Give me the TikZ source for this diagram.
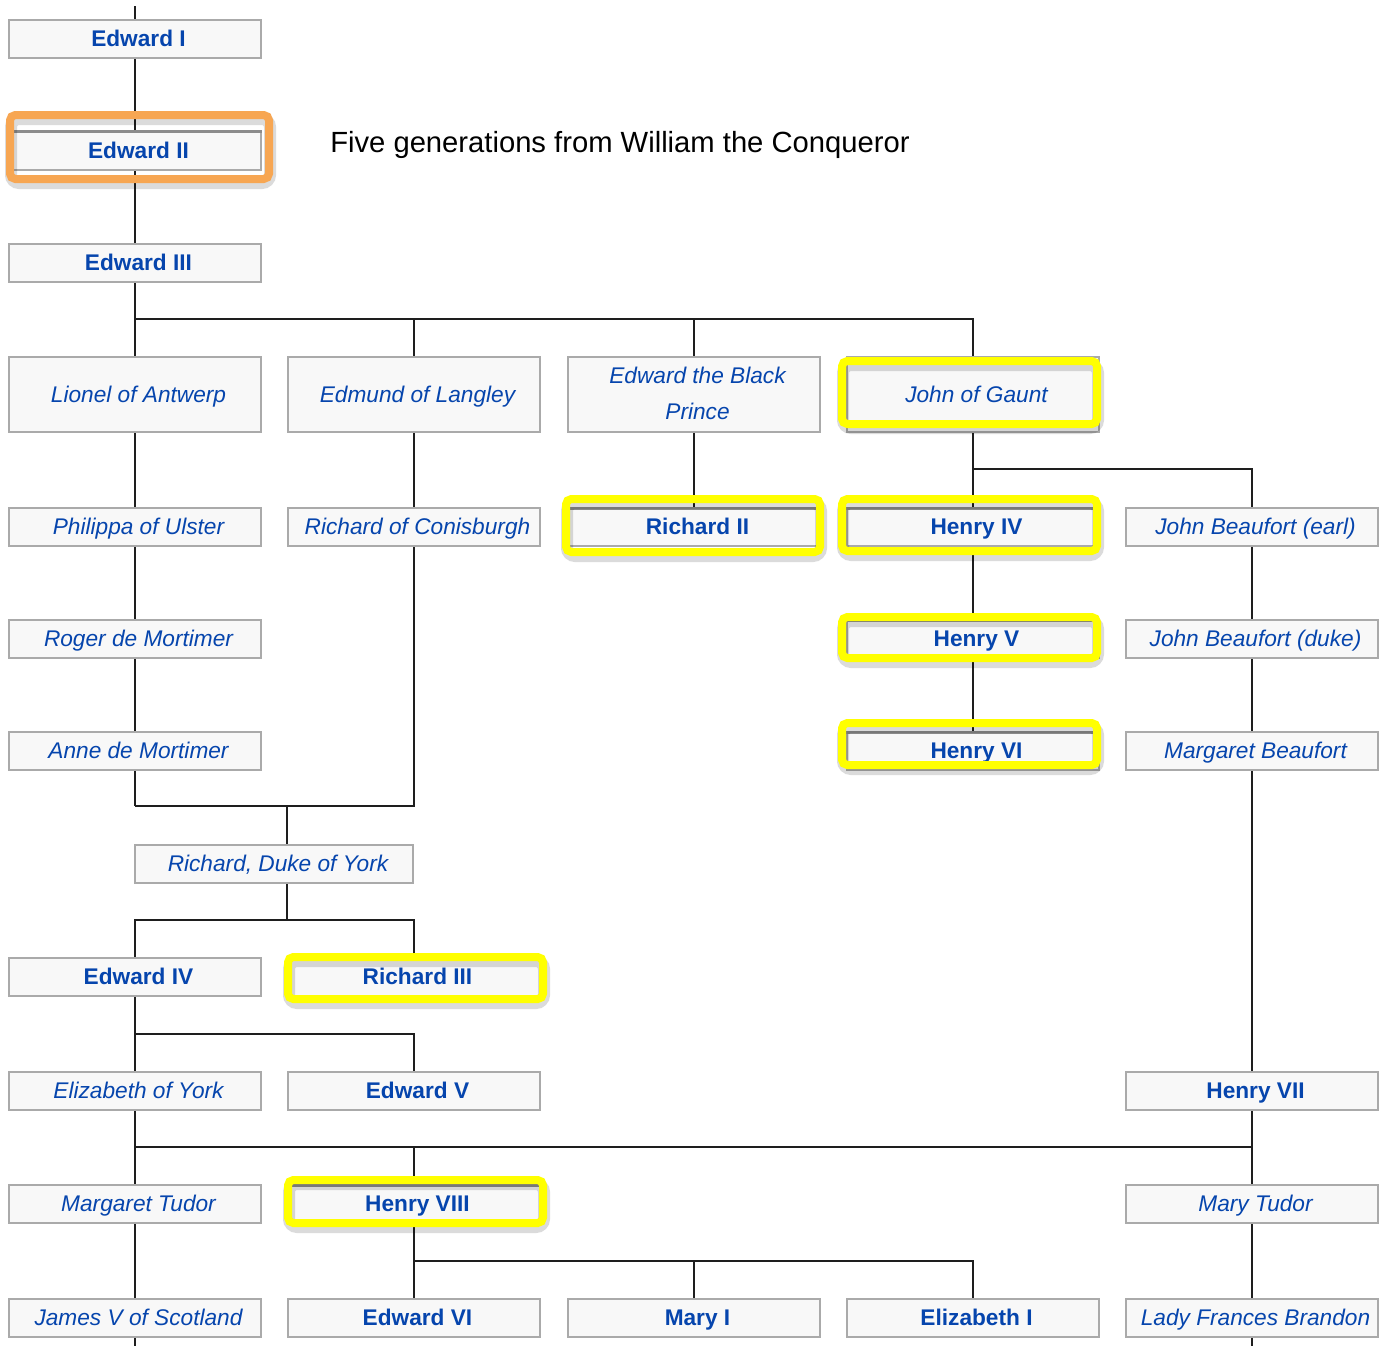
\documentclass[tikz,border=0pt]{standalone}
\usepackage{fontspec}
\setmainfont{Liberation Sans}
\usetikzlibrary{backgrounds}
\definecolor{linkblue}{RGB}{6,69,173}
\definecolor{boxfill}{RGB}{248,248,248}
\definecolor{boxline}{RGB}{170,170,170}
\definecolor{hlyellow}{RGB}{255,255,0}
\definecolor{hlorange}{RGB}{247,166,82}
\definecolor{connector}{RGB}{30,30,30}
\definecolor{innershade}{RGB}{140,140,140}
\pgfdeclarelayer{paper}
\pgfsetlayers{paper,background,main}
\begin{document}
\begin{tikzpicture}[x=0.75pt,y=-0.75pt,
  person/.style={draw=boxline, line width=1.5pt, fill=boxfill, minimum width=189pt, minimum height=28.5pt, inner sep=0pt, text=linkblue, align=center, anchor=center, text height=13.8pt, text depth=2pt, execute at begin node={\hspace*{6pt}}},
  king/.style={person, font=\fontsize{17}{27}\selectfont\bfseries},
  noble/.style={person, font=\fontsize{17}{27}\selectfont\itshape},
  tallbox/.style={minimum height=56.25pt},
  link/.style={draw=connector, line width=1.5pt},
  hlmark/.style={line width=6pt, rounded corners=4pt},
  hlshadow/.style={draw=black, opacity=0.14, line width=9pt, rounded corners=6pt},
  shade/.style={draw=innershade, line width=2.2pt}]
\useasboundingbox (0,0) rectangle (1388,1346);
\begin{pgfonlayer}{paper}
\fill[white] (0,0) rectangle (1388,1346);
\end{pgfonlayer}

% ---------- people ----------
\node[king]  (e1) at (134.5,38.5) {Edward I};
\node[king]  (e2) at (134.5,150.5) {Edward II};
\node[king]  (e3) at (134.5,263) {Edward III};

\node[noble,tallbox] (lionel) at (134.5,394.5) {Lionel of Antwerp};
\node[noble,tallbox] (edmund) at (413.5,394.5) {Edmund of Langley};
\node[noble,tallbox,text height=38.8pt,text depth=2pt] (bprince) at (693.5,394.5) {Edward the Black\\Prince};
\node[noble,tallbox] (gaunt) at (972.5,394.5) {John of Gaunt};

\node[noble] (philippa) at (134.5,527) {Philippa of Ulster};
\node[noble] (conis) at (413.5,527) {Richard of Conisburgh};
\node[king]  (rich2) at (693.5,527) {Richard II};
\node[king]  (hen4) at (972.5,527) {Henry IV};
\node[noble] (jbe) at (1251.5,527) {John Beaufort (earl)};

\node[noble] (roger) at (134.5,639) {Roger de Mortimer};
\node[king]  (hen5) at (972.5,639) {Henry V};
\node[noble] (jbd) at (1251.5,639) {John Beaufort (duke)};

\node[noble] (anne) at (134.5,751) {Anne de Mortimer};
\node[king]  (hen6) at (972.5,751) {Henry VI};
\node[noble] (mbeau) at (1251.5,751) {Margaret Beaufort};

\node[noble,minimum width=208.5pt] (york) at (274,864) {Richard, Duke of York};

\node[king]  (edw4) at (134.5,977) {Edward IV};
\node[king]  (rich3) at (413.5,977) {Richard III};

\node[noble] (elizy) at (134.5,1091) {Elizabeth of York};
\node[king]  (edw5) at (413.5,1091) {Edward V};
\node[king]  (hen7) at (1251.5,1091) {Henry VII};

\node[noble] (margt) at (134.5,1204) {Margaret Tudor};
\node[king]  (hen8) at (413.5,1204) {Henry VIII};
\node[noble] (maryt) at (1251.5,1204) {Mary Tudor};

\node[noble] (james) at (134.5,1318) {James V of Scotland};
\node[king]  (edw6) at (413.5,1318) {Edward VI};
\node[king]  (mary1) at (693.5,1318) {Mary I};
\node[king]  (eliz1) at (972.5,1318) {Elizabeth I};
\node[noble] (lfb) at (1251.5,1318) {Lady Frances Brandon};

\node[anchor=base west, font=\fontsize{21.9}{25}\selectfont, inner sep=0pt] (title) at (330,152) {Five generations from William the Conqueror};

% ---------- junctions ----------
\coordinate (top) at (134.5,6);
\coordinate (j1) at (134.5,319);
\coordinate (jg) at (972.5,469);
\coordinate (j2) at (134.5,806);
\coordinate (j3) at (287,806);
\coordinate (j4) at (287,920);
\coordinate (j6) at (134.5,1034);
\coordinate (j7) at (134.5,1147);
\coordinate (j8) at (413.5,1261);
\coordinate (bot1) at (134.5,1346);
\coordinate (bot5) at (1251.5,1346);

% ---------- connectors ----------
\begin{scope}[on background layer]
\draw[link] (top) -- (e1.center) -- (e2.center) -- (e3.center) -- (j1);
\draw[link] (j1) -- (lionel.center);
\draw[link] (j1) -| (edmund.center);
\draw[link] (j1) -| (bprince.center);
\draw[link] (j1) -| (gaunt.center);
\draw[link] (lionel.center) -- (philippa.center) -- (roger.center) -- (anne.center) -- (j2);
\draw[link] (edmund.center) -- (conis.center);
\draw[link] (j2) -| (conis.center);
\draw[link] (j3) -- (j4);
\draw[link] (j4) -| (edw4.center);
\draw[link] (j4) -| (rich3.center);
\draw[link] (bprince.center) -- (rich2.center);
\draw[link] (gaunt.center) -- (hen4.center) -- (hen5.center) -- (hen6.center);
\draw[link] (jg) -| (jbe.center);
\draw[link] (jbe.center) -- (jbd.center) -- (mbeau.center) -- (hen7.center) -- (maryt.center) -- (lfb.center) -- (bot5);
\draw[link] (edw4.center) -- (elizy.center);
\draw[link] (j6) -| (edw5.center);
\draw[link] (elizy.center) -- (margt.center) -- (james.center) -- (bot1);
\draw[link] (j7) -| (hen7.center);
\draw[link] (j7) -| (hen8.center);
\draw[link] (hen8.center) -- (edw6.center);
\draw[link] (j8) -| (mary1.center);
\draw[link] (j8) -| (eliz1.center);
\end{scope}

% ---------- inner shading on the marked boxes ----------
\foreach \n in {e2,rich2,hen4,hen5,hen6,rich3,hen8}{
  \draw[shade] ([yshift=-1pt]\n.north west) -- ([yshift=-1pt]\n.north east);
}

% ---------- highlight marks ----------
\foreach \xa/\ya/\xb/\yb/\col in {
  10/115/269/179/hlorange,
  842/361/1097/424/hlyellow,
  566/499/820/552/hlyellow,
  842/499/1097/551/hlyellow,
  842/617/1097/658/hlyellow,
  842/723/1097/765/hlyellow,
  288/957/543/999/hlyellow,
  288/1180/543/1223/hlyellow}{
  \draw[hlshadow] (\xa+1,\ya+4) rectangle (\xb+1,\yb+4);
  \draw[hlmark, draw=\col] (\xa,\ya) rectangle (\xb,\yb);
}
\end{tikzpicture}
\end{document}
